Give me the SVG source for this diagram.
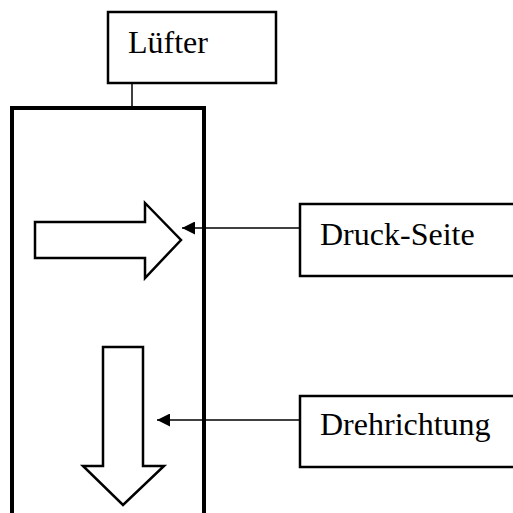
<svg xmlns="http://www.w3.org/2000/svg" width="513" height="513" viewBox="0 0 513 513">
<defs>
<style>
.box{fill:#fff;stroke:#000;stroke-width:2.5}
.lbl{font-family:"Liberation Serif","Times New Roman",serif;font-size:32px;fill:#000}
.blk{fill:#fff;stroke:#000;stroke-width:2.5;stroke-linejoin:miter}
.con{stroke:#000;stroke-width:1.5;fill:none}
</style>
<marker id="ah" viewBox="0 0 10 10" refX="10" refY="5" markerWidth="13" markerHeight="13" markerUnits="userSpaceOnUse" orient="auto">
<path d="M0,0 L10,5 L0,10 Z" fill="#000"/>
</marker>
</defs>
<rect width="513" height="513" fill="#fff"/>
<g id="container">
<rect x="12" y="108" width="192" height="420" fill="none" stroke="#000" stroke-width="4"/>
</g>
<g id="luefter">
<rect class="box" x="108" y="12" width="168" height="71"/>
<text class="lbl" x="128" y="53">Lüfter</text>
</g>
<g id="druck-seite">
<rect class="box" x="300" y="204" width="230" height="72"/>
<text class="lbl" x="320" y="245">Druck-Seite</text>
</g>
<g id="drehrichtung">
<rect class="box" x="300" y="396" width="230" height="71"/>
<text class="lbl" x="320" y="435">Drehrichtung</text>
</g>
<g id="arrow-right">
<path class="blk" d="M35,222 L145,222 L145,203 L181,240 L145,278 L145,258 L35,258 Z"/>
</g>
<g id="arrow-down">
<path class="blk" d="M103,347 L143,347 L143,466 L164,466 L123,505 L83,466 L103,466 Z"/>
</g>
<g id="connectors">
<line class="con" x1="132" y1="83" x2="132" y2="106"/>
<line class="con" x1="300" y1="228" x2="182" y2="228" marker-end="url(#ah)"/>
<line class="con" x1="300" y1="420" x2="157" y2="420" marker-end="url(#ah)"/>
</g>
</svg>
